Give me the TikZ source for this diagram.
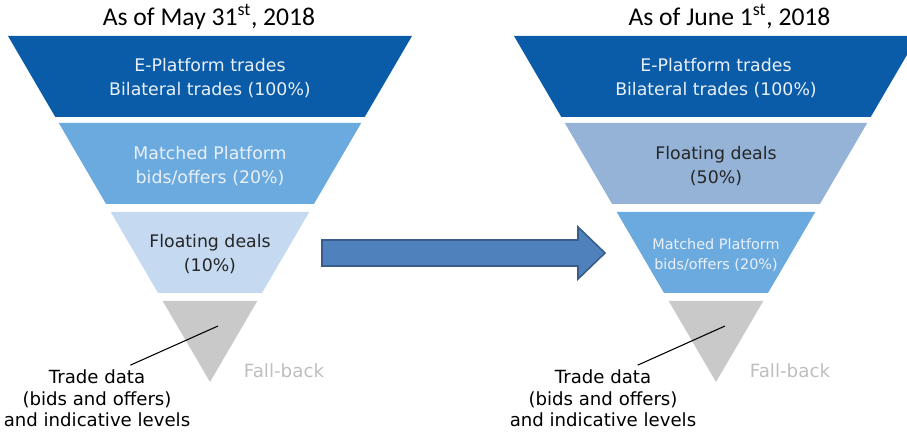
\documentclass[tikz,border=0pt]{standalone}
\usepackage{fontspec}
\setmainfont{Carlito}
\newfontfamily\slicefont{DejaVu Sans}
\usetikzlibrary{positioning}

\definecolor{eplat}{RGB}{11,92,168}
\definecolor{matched}{RGB}{107,170,222}
\definecolor{floatlt}{RGB}{197,217,241}
\definecolor{floatdk}{RGB}{149,179,215}
\definecolor{fallback}{RGB}{201,201,201}
\definecolor{fbtext}{RGB}{190,190,190}
\definecolor{paletext}{RGB}{234,240,248}
\definecolor{arrowfill}{RGB}{79,129,189}
\definecolor{arrowedge}{RGB}{56,93,138}

% one slice of a funnel: centre x, top y, bottom y, fill (apex at y=382)
\newcommand{\funnelslice}[4]{%
  \fill[#4] ({#1-(382-#2)*0.5838},#2) -- ({#1+(382-#2)*0.5838},#2)
    -- ({#1+(382-#3)*0.5838},#3) -- ({#1-(382-#3)*0.5838},#3) -- cycle;}

\begin{document}
\begin{tikzpicture}[x=0.75pt,y=-0.75pt,
    datetitle/.style={anchor=base,font=\fontsize{19.2}{23}\selectfont},
    slicetext/.style={align=center,font=\slicefont\fontsize{13}{18}\selectfont},
    smalltext/.style={align=center,font=\slicefont\fontsize{10.8}{15}\selectfont},
    note/.style={align=center,font=\slicefont\fontsize{13.6}{16.2}\selectfont},
    fbnote/.style={font=\slicefont\fontsize{13.7}{16}\selectfont,text=fbtext},
    pointer/.style={draw,line width=0.8pt}]

  \clip (0,0) rectangle (907,434);

  % before
  \funnelslice{210}{36}{117}{eplat}
  \funnelslice{210}{123}{204}{matched}
  \funnelslice{210}{212}{293}{floatlt}
  \funnelslice{210}{301}{382}{fallback}

  \node[datetitle] (lft-title) at (209,26) {As of May 31\textsuperscript{st}, 2018};
  \node[slicetext,text=paletext] (lft-eplat) at (210,78) {E-Platform trades\\Bilateral trades (100\%)};
  \node[slicetext,text=paletext] (lft-match) at (210,166) {Matched Platform\\bids/offers (20\%)};
  \node[slicetext,text=black!85] (lft-float) at (210,254) {Floating deals\\(10\%)};
  \node[fbnote] (lft-fb) at (284,371) {Fall-back};
  \node[note] (lft-data) at (97,398.5) {Trade data\\(bids and offers)\\and indicative levels};
  \coordinate (lft-tip) at (218,326);

  % after
  \funnelslice{716}{36}{117}{eplat}
  \funnelslice{716}{123}{204}{floatdk}
  \funnelslice{716}{212}{293}{matched}
  \funnelslice{716}{301}{382}{fallback}

  \node[datetitle] (rgt-title) at (729.5,26) {As of June 1\textsuperscript{st}, 2018};
  \node[slicetext,text=paletext] (rgt-eplat) at (716,78) {E-Platform trades\\Bilateral trades (100\%)};
  \node[slicetext,text=black!85] (rgt-float) at (716,166) {Floating deals\\(50\%)};
  \node[smalltext,text=paletext] (rgt-match) at (716,255) {Matched Platform\\bids/offers (20\%)};
  \node[fbnote] (rgt-fb) at (790,371) {Fall-back};
  \node[note] (rgt-data) at (603,398.5) {Trade data\\(bids and offers)\\and indicative levels};
  \coordinate (rgt-tip) at (725,326);

  \path[pointer] ([xshift=25pt]lft-data.north) -- (lft-tip)
                 ([xshift=26pt]rgt-data.north) -- (rgt-tip);

  % block arrow between the two funnels
  \fill[arrowfill,draw=arrowedge,line width=1.2pt,line join=miter]
    (322,240) -- (578,240) -- (578,227) -- (605,253)
    -- (578,279) -- (578,266) -- (322,266) -- cycle;
\end{tikzpicture}
\end{document}
